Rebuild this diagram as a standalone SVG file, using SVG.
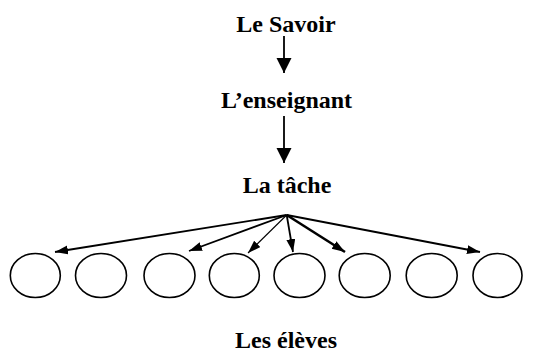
<svg xmlns="http://www.w3.org/2000/svg" width="546" height="353" viewBox="0 0 546 353">
<style>
.t{font-family:"Liberation Serif","Times New Roman",serif;font-weight:bold;font-size:24px;fill:#000;text-anchor:middle}
.e{fill:#fff;stroke:#000;stroke-width:1.6}
.c{stroke:#000;fill:none}
</style>
<defs>
<marker id="big" markerUnits="userSpaceOnUse" markerWidth="16" markerHeight="16" refX="15" refY="7.5" orient="auto"><path d="M0,0 L15,7.5 L0,15 z" fill="#000"/></marker>
<marker id="sm" markerUnits="userSpaceOnUse" markerWidth="14" markerHeight="10" refX="13" refY="4.5" orient="auto"><path d="M0,0 L13,4.5 L0,9 z" fill="#000"/></marker>
</defs>
<g id="savoir"><text class="t" x="286" y="32">Le Savoir</text></g>
<g id="enseignant"><text class="t" x="286.5" y="108">L’enseignant</text></g>
<g id="tache"><text class="t" x="287" y="193">La tâche</text></g>
<g id="eleves"><text class="t" x="286" y="348">Les élèves</text></g>
<g id="e1"><ellipse class="e" cx="35.3" cy="275.5" rx="25" ry="22"/></g>
<g id="e2"><ellipse class="e" cx="101" cy="275.5" rx="25.5" ry="22"/></g>
<g id="e3"><ellipse class="e" cx="169.5" cy="275.5" rx="25.5" ry="22"/></g>
<g id="e4"><ellipse class="e" cx="234.3" cy="275.5" rx="25" ry="22"/></g>
<g id="e5"><ellipse class="e" cx="299.5" cy="275.5" rx="25.5" ry="22"/></g>
<g id="e6"><ellipse class="e" cx="364.7" cy="275.5" rx="25.5" ry="22"/></g>
<g id="e7"><ellipse class="e" cx="431.7" cy="275.5" rx="25.5" ry="22"/></g>
<g id="e8"><ellipse class="e" cx="497.5" cy="275.5" rx="24.5" ry="22"/></g>
<g id="connectors">
<line class="c" x1="284" y1="36" x2="284" y2="73" stroke-width="1.8" marker-end="url(#big)"/>
<line class="c" x1="284" y1="116" x2="284" y2="163" stroke-width="1.8" marker-end="url(#big)"/>
<line class="c" x1="286.7" y1="215" x2="55" y2="252" stroke-width="1.8" marker-end="url(#sm)"/>
<line class="c" x1="286.7" y1="215" x2="189" y2="251" stroke-width="1.8" marker-end="url(#sm)"/>
<line class="c" x1="286.7" y1="215" x2="248" y2="253" stroke-width="1.1" marker-end="url(#sm)"/>
<line class="c" x1="286.7" y1="215" x2="293" y2="252" stroke-width="1.8" marker-end="url(#sm)"/>
<line class="c" x1="286.7" y1="215" x2="345" y2="252" stroke-width="2.6" marker-end="url(#sm)"/>
<line class="c" x1="286.7" y1="215" x2="480" y2="252" stroke-width="1.8" marker-end="url(#sm)"/>
</g>
</svg>
